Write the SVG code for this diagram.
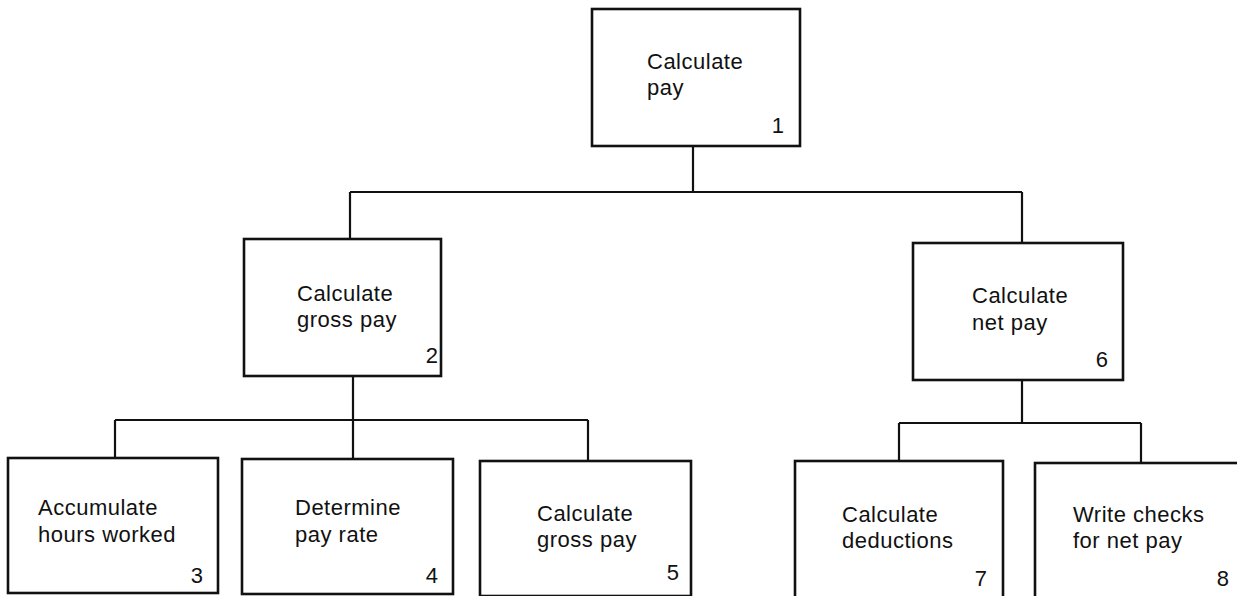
<svg xmlns="http://www.w3.org/2000/svg" width="1237" height="596" viewBox="0 0 1237 596">
  <style>
    .box { fill: #ffffff; stroke: #111111; stroke-width: 2.6; }
    .link { fill: none; stroke: #111111; stroke-width: 2.2; }
    .label { font-family: "Liberation Sans", Arial, sans-serif; font-size: 22px; letter-spacing: 0.5px; fill: #111111; }
    .num { font-family: "Liberation Sans", Arial, sans-serif; font-size: 22px; fill: #111111; text-anchor: end; }
  </style>
  <rect width="1237" height="596" fill="#ffffff"/>

  <!-- tree connectors -->
  <g id="connectors">
    <path class="link" d="M693 146 V192 M350 192 H1022 M350 192 V239 M1022 192 V243"/>
    <path class="link" d="M353 376 V420 M115 420 H588 M115 420 V458 M353 420 V459 M588 420 V461"/>
    <path class="link" d="M1022 380 V423 M899 423 H1141 M899 423 V461 M1141 423 V463"/>
  </g>

  <g id="node1">
    <rect class="box" x="592" y="9" width="208" height="137"/>
    <text class="label" x="647" y="69">Calculate</text>
    <text class="label" x="647" y="95">pay</text>
    <text class="num" x="784" y="133">1</text>
  </g>

  <g id="node2">
    <rect class="box" x="244" y="239" width="197" height="137"/>
    <text class="label" x="297" y="301">Calculate</text>
    <text class="label" x="297" y="327">gross pay</text>
    <text class="num" x="438" y="363">2</text>
  </g>

  <g id="node6">
    <rect class="box" x="913" y="243" width="210" height="137"/>
    <text class="label" x="972" y="303">Calculate</text>
    <text class="label" x="972" y="330">net pay</text>
    <text class="num" x="1108" y="367">6</text>
  </g>

  <g id="node3">
    <rect class="box" x="8" y="458" width="210" height="135"/>
    <text class="label" x="38" y="515">Accumulate</text>
    <text class="label" x="38" y="542">hours worked</text>
    <text class="num" x="203" y="583">3</text>
  </g>

  <g id="node4">
    <rect class="box" x="242" y="459" width="211" height="135"/>
    <text class="label" x="295" y="515">Determine</text>
    <text class="label" x="295" y="542">pay rate</text>
    <text class="num" x="438" y="583">4</text>
  </g>

  <g id="node5">
    <rect class="box" x="480" y="461" width="211" height="135"/>
    <text class="label" x="537" y="521">Calculate</text>
    <text class="label" x="537" y="547">gross pay</text>
    <text class="num" x="679" y="580">5</text>
  </g>

  <g id="node7">
    <rect class="box" x="795" y="461" width="208" height="140"/>
    <text class="label" x="842" y="522">Calculate</text>
    <text class="label" x="842" y="548">deductions</text>
    <text class="num" x="987" y="586">7</text>
  </g>

  <g id="node8">
    <rect class="box" x="1035" y="463" width="210" height="140"/>
    <text class="label" x="1073" y="522">Write checks</text>
    <text class="label" x="1073" y="548">for net pay</text>
    <text class="num" x="1229" y="586">8</text>
  </g>
</svg>
